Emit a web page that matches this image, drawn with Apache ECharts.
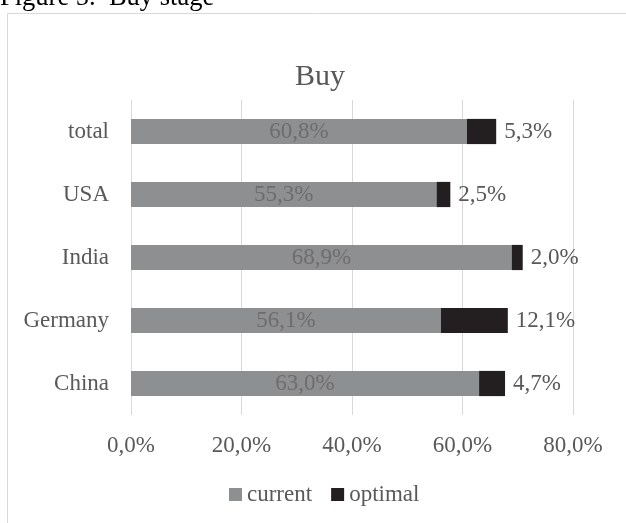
<!DOCTYPE html>
<html>
<head>
<meta charset="utf-8">
<script src="https://cdn.jsdelivr.net/npm/echarts@6/dist/echarts.min.js"></script>
<style>
  html, body { margin: 0; padding: 0; background: #ffffff; }
  #chart { width: 626px; height: 523px; }
</style>
</head>
<body>
<div id="chart"></div>
<script>
// Categories listed bottom to top on the vertical axis
const categories = ['China', 'Germany', 'India', 'USA', 'total'];
const currentValues = [63.0, 56.1, 68.9, 55.3, 60.8];
const optimalValues = [4.7, 12.1, 2.0, 2.5, 5.3];
const xTicks = [0, 20, 40, 60, 80];

const FONT = "'Liberation Serif', 'Times New Roman', serif";
const TEXT = '#595959';
const pct = v => v.toFixed(1).replace('.', ',') + '%';

const chart = echarts.init(document.getElementById('chart'), null, { renderer: 'canvas' });

chart.setOption({
  animation: false,
  backgroundColor: '#ffffff',
  textStyle: { fontFamily: FONT },
  graphic: [
    {
      type: 'rect',
      shape: { x: 7.5, y: 13.5, width: 700, height: 600 },
      style: { fill: 'none', stroke: '#d9d9d9', lineWidth: 1 },
      silent: true
    },
    {
      type: 'text',
      x: 0, y: -2,
      style: {
        text: 'Figure 5.  Buy stage',
        font: '26.5px ' + FONT,
        fill: '#000000',
        verticalAlign: 'middle'
      }
    }
  ],
  title: {
    text: 'Buy',
    left: 315, top: 57,
    textAlign: 'center',
    textStyle: { fontFamily: FONT, fontSize: 30, fontWeight: 'normal', color: TEXT }
  },
  legend: {
    left: 224, top: 478,
    itemWidth: 13, itemHeight: 13, itemGap: 19,
    icon: 'rect',
    textStyle: { fontFamily: FONT, fontSize: 23, color: TEXT },
    data: ['current', 'optimal']
  },
  grid: { left: 131, right: 53, top: 100, bottom: 108, containLabel: false },
  xAxis: {
    type: 'value',
    min: xTicks[0], max: xTicks[xTicks.length - 1], interval: 20,
    axisLine: { show: false },
    axisTick: { show: false },
    splitLine: { lineStyle: { color: '#d9d9d9', width: 1 } },
    axisLabel: {
      margin: 19,
      fontFamily: FONT, fontSize: 23, color: TEXT,
      formatter: v => pct(v)
    }
  },
  yAxis: {
    type: 'category',
    data: categories,
    axisLine: { show: false },
    axisTick: { show: false },
    axisLabel: { margin: 22, fontFamily: FONT, fontSize: 23, color: TEXT }
  },
  series: [
    {
      name: 'current',
      type: 'bar',
      stack: 'buy',
      barWidth: '40%',
      data: currentValues,
      itemStyle: { color: '#8e8f91' },
      label: {
        show: true, position: 'inside',
        fontFamily: FONT, fontSize: 23, color: '#6d6d6e',
        formatter: p => pct(p.value)
      }
    },
    {
      name: 'optimal',
      type: 'bar',
      stack: 'buy',
      barWidth: '40%',
      data: optimalValues,
      itemStyle: { color: '#231f20' },
      label: {
        show: true, position: 'right', distance: 8,
        fontFamily: FONT, fontSize: 23, color: TEXT,
        formatter: p => pct(p.value)
      }
    }
  ]
});
</script>
</body>
</html>
